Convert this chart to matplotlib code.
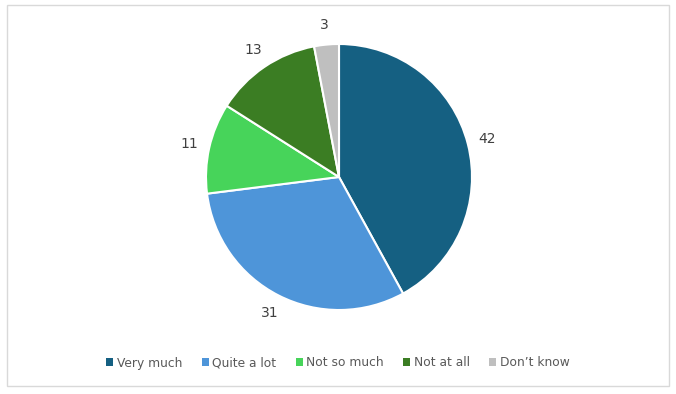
import matplotlib.pyplot as plt
from matplotlib.patches import Rectangle, Patch

categories = ["Very much", "Quite a lot", "Not so much", "Not at all", "Don\u2019t know"]
values = [42, 31, 11, 13, 3]
colors = ["#156082", "#4e95d9", "#47d45a", "#3b7d23", "#bfbfbf"]

fig = plt.figure(figsize=(6.76, 3.94), dpi=100)
fig.patches.append(Rectangle((7 / 676, 1 - 386 / 394), 662 / 676, 381 / 394,
                             transform=fig.transFigure, fill=False,
                             edgecolor="#d9d9d9", linewidth=1))

# pie axes, centre ~(339,177) px, radius ~133 px
r = 133
ax = fig.add_axes([(339 - r) / 676, 1 - (177 + r) / 394, 2 * r / 676, 2 * r / 394])
wedges, texts = ax.pie(values, labels=[str(v) for v in values], colors=colors,
                       startangle=90, counterclock=False, labeldistance=1.15,
                       wedgeprops=dict(edgecolor="white", linewidth=1.5),
                       textprops=dict(fontsize=10, color="#404040"))
for t in texts:
    t.set_ha("center")
    t.set_va("center")
    t.set_clip_on(False)
ax.set_xlim(-1, 1)
ax.set_ylim(-1, 1)
ax.set_aspect("equal")

handles = [Patch(facecolor=c, edgecolor="none") for c in colors]
fig.legend(handles, categories, loc="center", bbox_to_anchor=(0.5, 1 - 363 / 394),
           ncol=5, frameon=False, fontsize=8.8, labelcolor="#595959",
           handlelength=0.55, handleheight=0.55, handletextpad=0.3, columnspacing=1.6)

fig.savefig("out.png", dpi=100)
